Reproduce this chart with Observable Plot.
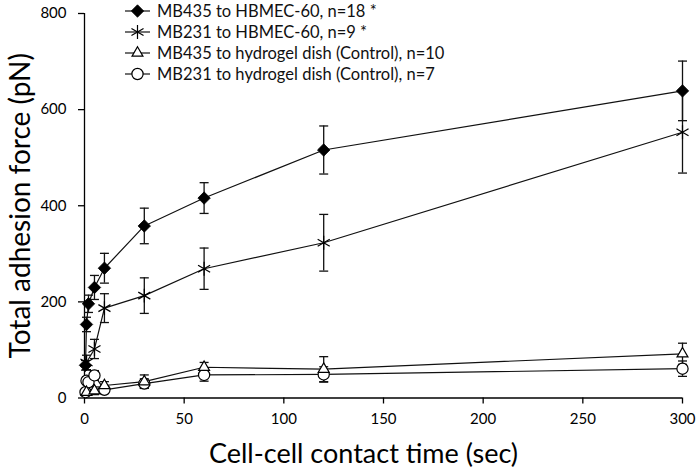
<!DOCTYPE html>
<html><head><meta charset="utf-8">
<script src="https://cdn.jsdelivr.net/npm/d3@7"></script>
<script src="https://cdn.jsdelivr.net/npm/@observablehq/plot@0.6"></script>
<style>
body{margin:0;background:#fff;}
#wrap{position:relative;width:698px;height:470px;font-family:Lato, sans-serif;}
#legend{position:absolute;left:0;top:0;}
#wrap g[aria-label="x-axis label"] text{font-size:27px;}
#wrap g[aria-label="y-axis label"] text{font-size:28px;}
</style></head><body><div id="wrap"></div>
<script>
// Data
const seriesNames = [
  "MB435 to HBMEC-60, n=18 *",
  "MB231 to HBMEC-60, n=9 *",
  "MB435 to hydrogel dish (Control), n=10",
  "MB231 to hydrogel dish (Control), n=7"
];
const timeA = [0.5, 1, 2, 5, 10, 30, 60, 120, 300];
const forceA = [68, 153, 196, 230, 270, 358, 416, 516, 639];
const errA = [10, 15, 18, 25, 31, 37, 32, 50, 62];

const timeB = [1, 5, 10, 30, 60, 120, 300];
const forceB = [74, 102, 187, 213, 269, 323, 553];
const errB = [15, 20, 30, 37, 43, 59, 85];

const timeC = [1, 5, 10, 30, 60, 120, 300];
const forceC = [12, 15, 26, 34, 64, 60, 92];
const errC = [5, 8, 8, 14, 10, 26, 22];

const timeD = [0.5, 1, 2, 5, 10, 30, 60, 120, 300];
const forceD = [12, 36, 33, 47, 17, 30, 48, 49, 61];
const errD = [5, 8, 8, 10, 6, 10, 13, 16, 16];

const xTicks = [0, 50, 100, 150, 200, 250, 300];
const yTicks = [0, 200, 400, 600, 800];

const symbols = ["diamond2", "asterisk", "triangle2", "circle"];
const fills = ["black", "none", "white", "white"];
const radii = [5.6, 6.6, 5.2, 5.6];

const raw = [[timeA, forceA, errA], [timeB, forceB, errB], [timeC, forceC, errC], [timeD, forceD, errD]];
const data = raw.flatMap(([t, v, e], i) => t.map((x, j) => ({s: i, name: seriesNames[i], t: x, v: v[j], e: e[j]})));

const cap = {draw(ctx) { ctx.moveTo(-4.5, 0); ctx.lineTo(4.5, 0); }};

const marks = [
  Plot.ruleY([0], {stroke: "black", strokeWidth: 1.3}),
  Plot.ruleX([0], {stroke: "black", strokeWidth: 1.3}),
  Plot.axisX({ticks: xTicks, tickSize: 6, tickPadding: 9, fontSize: 15, strokeWidth: 1.3,
    label: "Cell-cell contact time (sec)", labelAnchor: "center", labelOffset: 65, labelArrow: "none"}),
  Plot.axisY({ticks: yTicks, tickSize: 6, tickPadding: 12, fontSize: 15, strokeWidth: 1.3,
    label: "Total adhesion force (pN)", labelAnchor: "center", labelOffset: 74, labelArrow: "none"}),
  Plot.line(data, {x: "t", y: "v", z: "s", stroke: "#111", strokeWidth: 1.2}),
  Plot.ruleX(data, {x: "t", y1: d => d.v - d.e, y2: d => d.v + d.e, stroke: "#111", strokeWidth: 1.3}),
  Plot.dot(data, {x: "t", y: d => d.v + d.e, symbol: () => cap, stroke: "#111", strokeWidth: 1.3, r: 1}),
  Plot.dot(data, {x: "t", y: d => d.v - d.e, symbol: () => cap, stroke: "#111", strokeWidth: 1.3, r: 1}),
];
[3, 2, 1, 0].forEach(i => {
  marks.push(Plot.dot(data.filter(d => d.s === i), {x: "t", y: "v", symbol: symbols[i], r: radii[i],
    fill: fills[i], stroke: "black", strokeWidth: i === 0 ? 0.8 : 1.2}));
});

const chart = Plot.plot({
  width: 698, height: 470,
  marginLeft: 84, marginRight: 16, marginTop: 13, marginBottom: 72.5,
  style: {fontFamily: "Lato, sans-serif", color: "black", background: "white", overflow: "visible"},
  x: {domain: [0, 300]},
  y: {domain: [0, 800]},
  marks
});
document.getElementById("wrap").appendChild(chart);
d3.select(chart).select('g[aria-label="x-axis label"] text').attr("dx", -20);

// Legend overlay
const leg = d3.select("#wrap").append("svg").attr("id", "legend").attr("width", 698).attr("height", 100);
seriesNames.forEach((name, i) => {
  const g = leg.append("g").attr("transform", `translate(0,${11 + i * 21})`);
  g.append("line").attr("x1", 125).attr("x2", 150).attr("y1", 0).attr("y2", 0).attr("stroke", "#111").attr("stroke-width", 1.2);
  const symMap = [d3.symbolDiamond2, d3.symbolAsterisk, d3.symbolTriangle2, d3.symbolCircle];
  g.append("path").attr("transform", "translate(137.5,0)")
    .attr("d", d3.symbol(symMap[i], Math.PI * radii[i] * radii[i])())
    .attr("fill", fills[i]).attr("stroke", "black").attr("stroke-width", i === 0 ? 0.8 : 1.2);
  g.append("text").attr("x", 157).attr("y", 0).attr("dy", "0.35em")
    .attr("font-family", "Lato, sans-serif").attr("font-size", 16.5).attr("fill", "#111").text(name);
});
</script></body></html>
